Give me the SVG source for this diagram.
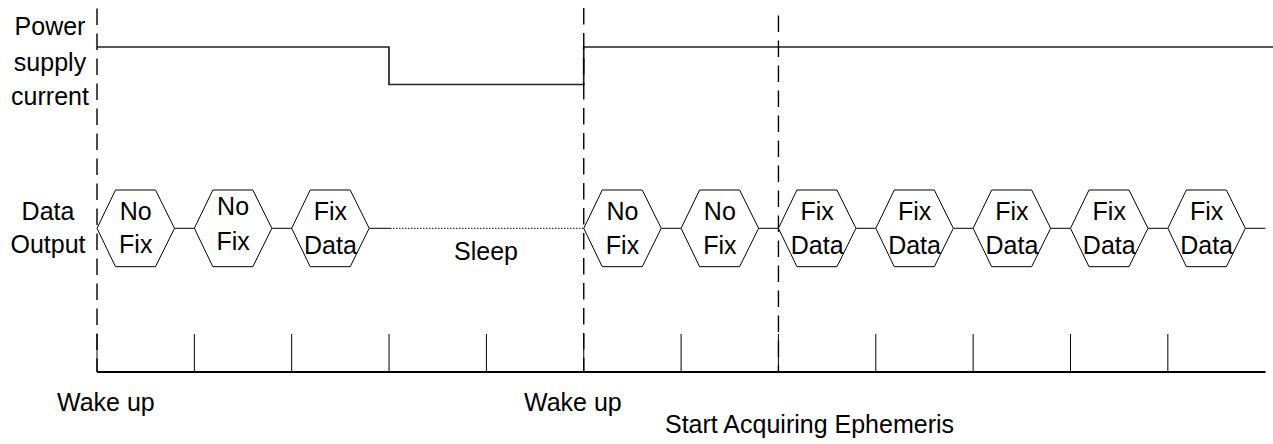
<svg xmlns="http://www.w3.org/2000/svg" width="1273" height="444" viewBox="0 0 1273 444">
<style>
text{font-family:"Liberation Sans",Arial,sans-serif;font-size:25px;fill:#000}
.m{text-anchor:middle}
.hex{fill:#fff;stroke:#000;stroke-width:1}
.dash{stroke:#000;stroke-width:1.4;stroke-dasharray:16.5 8.5;fill:none}
.wire{stroke:#000;stroke-width:1;fill:none}
.dot{stroke:#000;stroke-width:1;stroke-dasharray:1.5 1.5;fill:none}
.power{stroke:#222;stroke-width:1.7;fill:none}
.tick{stroke:#000;stroke-width:1;fill:none}
.base{stroke:#000;stroke-width:1.8;fill:none}
</style>
<defs>
<polygon id="hx" points="0,228.3 18.5,190 58.5,190 77.5,228.3 58.5,266.7 18.5,266.7"/>
</defs>
<rect width="1273" height="444" fill="#fff"/>

<g id="labels">
<text class="m" x="50" y="35">Power</text>
<text class="m" x="50" y="71">supply</text>
<text class="m" x="50" y="105">current</text>
<text class="m" x="48" y="220">Data</text>
<text class="m" x="48" y="253">Output</text>
<text class="m" x="486" y="260">Sleep</text>
<text x="57" y="411">Wake up</text>
<text x="524" y="411">Wake up</text>
<text x="665" y="433">Start Acquiring Ephemeris</text>
</g>

<g id="power-supply-current">
<polyline class="power" points="97,47 389,47 389,84.5 583.7,84.5 583.7,47 1273,47"/>
</g>

<g id="timeline">
<line class="base" x1="97" y1="372" x2="1265.5" y2="372"/>
<path class="tick" d="M194.35,334V372M291.7,334V372M389.05,334V372M486.4,334V372M681.1,334V372M875.8,334V372M973.15,334V372M1070.5,334V372M1167.85,334V372"/>
<path class="tick" d="M97,334V372M583.75,334V372M778.45,334V372"/>
</g>

<g id="markers">
<line class="dash" x1="97" y1="8.5" x2="97" y2="372"/>
<line class="dash" x1="583.75" y1="8" x2="583.75" y2="372"/>
<line class="dash" x1="778.45" y1="15.5" x2="778.45" y2="372"/>
</g>

<g id="connectors">
<path class="wire" d="M174.5,228.3H194.35M271.85,228.3H291.7M369.2,228.3H390M661.25,228.3H681.1M758.6,228.3H778.45M855.95,228.3H875.8M953.3,228.3H973.15M1050.65,228.3H1070.5M1148,228.3H1167.85M1245.35,228.3H1265.5"/>
<path class="dot" d="M390,228.3H583.75"/>
</g>

<g id="hex1" transform="translate(97,0)"><use href="#hx" class="hex"/><text class="m" x="38.75" y="220">No</text><text class="m" x="38.75" y="253">Fix</text></g>
<g id="hex2" transform="translate(194.35,0)"><use href="#hx" class="hex"/><text class="m" x="38.75" y="215">No</text><text class="m" x="38.75" y="250">Fix</text></g>
<g id="hex3" transform="translate(291.7,0)"><use href="#hx" class="hex"/><text class="m" x="38.75" y="220">Fix</text><text class="m" x="38.75" y="254">Data</text></g>
<g id="hex4" transform="translate(583.75,0)"><use href="#hx" class="hex"/><text class="m" x="38.75" y="220">No</text><text class="m" x="38.75" y="254">Fix</text></g>
<g id="hex5" transform="translate(681.1,0)"><use href="#hx" class="hex"/><text class="m" x="38.75" y="220">No</text><text class="m" x="38.75" y="254">Fix</text></g>
<g id="hex6" transform="translate(778.45,0)"><use href="#hx" class="hex"/><text class="m" x="38.75" y="220">Fix</text><text class="m" x="38.75" y="254">Data</text></g>
<g id="hex7" transform="translate(875.8,0)"><use href="#hx" class="hex"/><text class="m" x="38.75" y="220">Fix</text><text class="m" x="38.75" y="254">Data</text></g>
<g id="hex8" transform="translate(973.15,0)"><use href="#hx" class="hex"/><text class="m" x="38.75" y="220">Fix</text><text class="m" x="38.75" y="254">Data</text></g>
<g id="hex9" transform="translate(1070.5,0)"><use href="#hx" class="hex"/><text class="m" x="38.75" y="220">Fix</text><text class="m" x="38.75" y="254">Data</text></g>
<g id="hex10" transform="translate(1167.85,0)"><use href="#hx" class="hex"/><text class="m" x="38.75" y="220">Fix</text><text class="m" x="38.75" y="254">Data</text></g>
</svg>
